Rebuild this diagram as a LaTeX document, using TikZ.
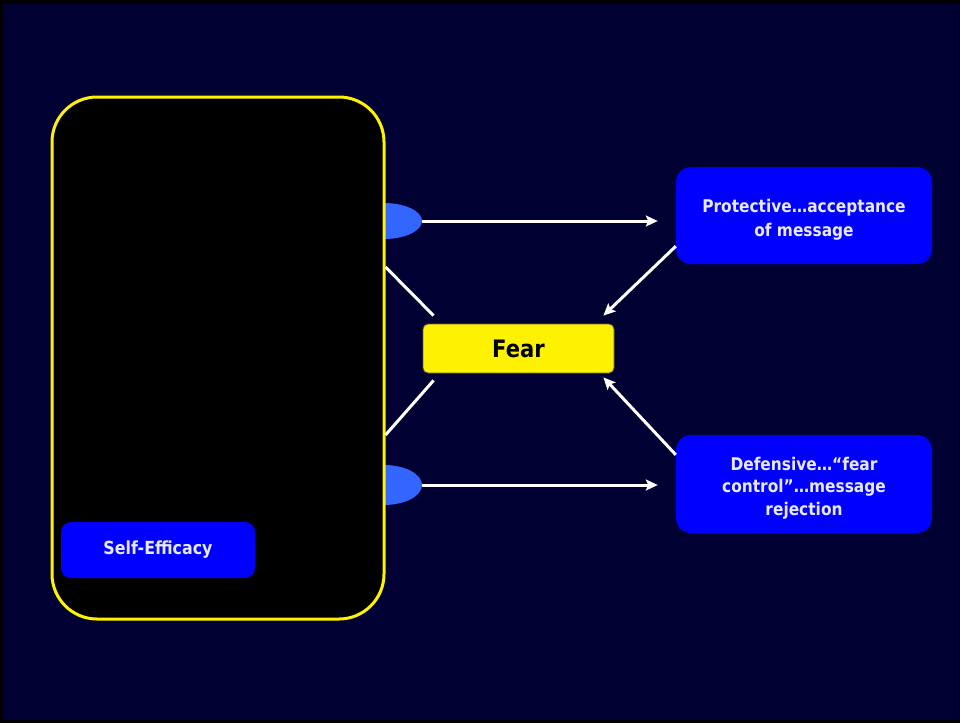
\documentclass[tikz,border=0pt]{standalone}
\usepackage{fontspec}
\setmainfont[FakeStretch=0.88]{DejaVu Sans}
\usetikzlibrary{shapes.geometric,arrows.meta,calc}
\definecolor{navy}{RGB}{0,0,51}
\definecolor{slideblue}{RGB}{0,0,255}
\definecolor{lightblue}{RGB}{51,102,255}
\definecolor{paletext}{RGB}{232,232,255}
\tikzset{
  panel/.style={draw=yellow,line width=3pt,fill=black,rounded corners=45pt,
    minimum width=332pt,minimum height=522pt,inner sep=0pt},
  blob/.style={ellipse,fill=lightblue,inner sep=0pt},
  fearbox/.style={draw=black!70!yellow,line width=0.8pt,fill=yellow,rounded corners=5pt,
    minimum width=191pt,minimum height=49pt,inner sep=0pt,
    font=\fontsize{24}{28}\selectfont\bfseries,text=black},
  outcome/.style={fill=slideblue,rounded corners=15pt,minimum width=256pt,
    minimum height=97pt,inner sep=0pt},
  outtext/.style={align=center,text=paletext,inner sep=0pt,
    font=\fontsize{17.5}{23.5}\selectfont\bfseries},
  factor/.style={fill=slideblue,rounded corners=10pt,minimum width=194pt,
    minimum height=56pt,inner sep=0pt,text=paletext,
    font=\fontsize{18}{23}\selectfont\bfseries},
  link/.style={draw=white,line width=3pt},
  arr/.style={link,-{Stealth[length=12pt,width=11pt,inset=2.5pt]}},
}
\begin{document}
\begin{tikzpicture}[x=1pt,y=-1pt]
  % slide frame and background
  \fill[black] (0,0) rectangle (960,723);
  \fill[navy] (3,4) rectangle (959,720);
  \useasboundingbox (0,0) rectangle (960,723);

  % blue lobes partly hidden behind the panel
  \node[blob,minimum width=76pt,minimum height=36pt] (blobA) at (384,221) {};
  \node[blob,minimum width=76pt,minimum height=40pt] (blobB) at (384,485) {};

  % the large panel
  \node[panel] (panel) at (218,358) {};
  \node[factor] (self) at (158,550) {Self-Efficacy};

  % central node and outcomes
  \node[fearbox] (fear) at (518.5,348.5) {Fear};
  \node[outcome] (prot) at (804,215.5) {};
  \node[outtext] (prottext) at ([yshift=-4pt]prot.center)
    {Protective\ldots acceptance\\of message};
  \node[outcome,minimum height=98pt] (def) at (804,484) {};
  \node[outtext,font=\fontsize{17.5}{22.5}\selectfont\bfseries] (deftext)
    at ([yshift=-4pt]def.center)
    {Defensive\ldots “fear\\control”\ldots message\\rejection};

  % connectors
  \draw[arr,shorten >=18pt] (blobA.east) -- (blobA.east -| prot.west);
  \draw[arr,shorten >=18pt] (blobB.east) -- (blobB.east -| prot.west);

  \coordinate (pu) at (panel.east |- 0,267);
  \coordinate (pl) at (panel.east |- 0,435);
  \draw[link] (pu) -- ($(fear.north west)+(11,-8)$);
  \draw[link] (pl) -- ($(fear.south west)+(11,7)$);

  \draw[arr] ($(prot.south west)+(0,-18)$) -- ($(fear.north east)+(-11,-8)$);
  \draw[arr] ($(def.north west)+(0,20)$) -- ($(fear.south east)+(-11,4)$);
\end{tikzpicture}
\end{document}
